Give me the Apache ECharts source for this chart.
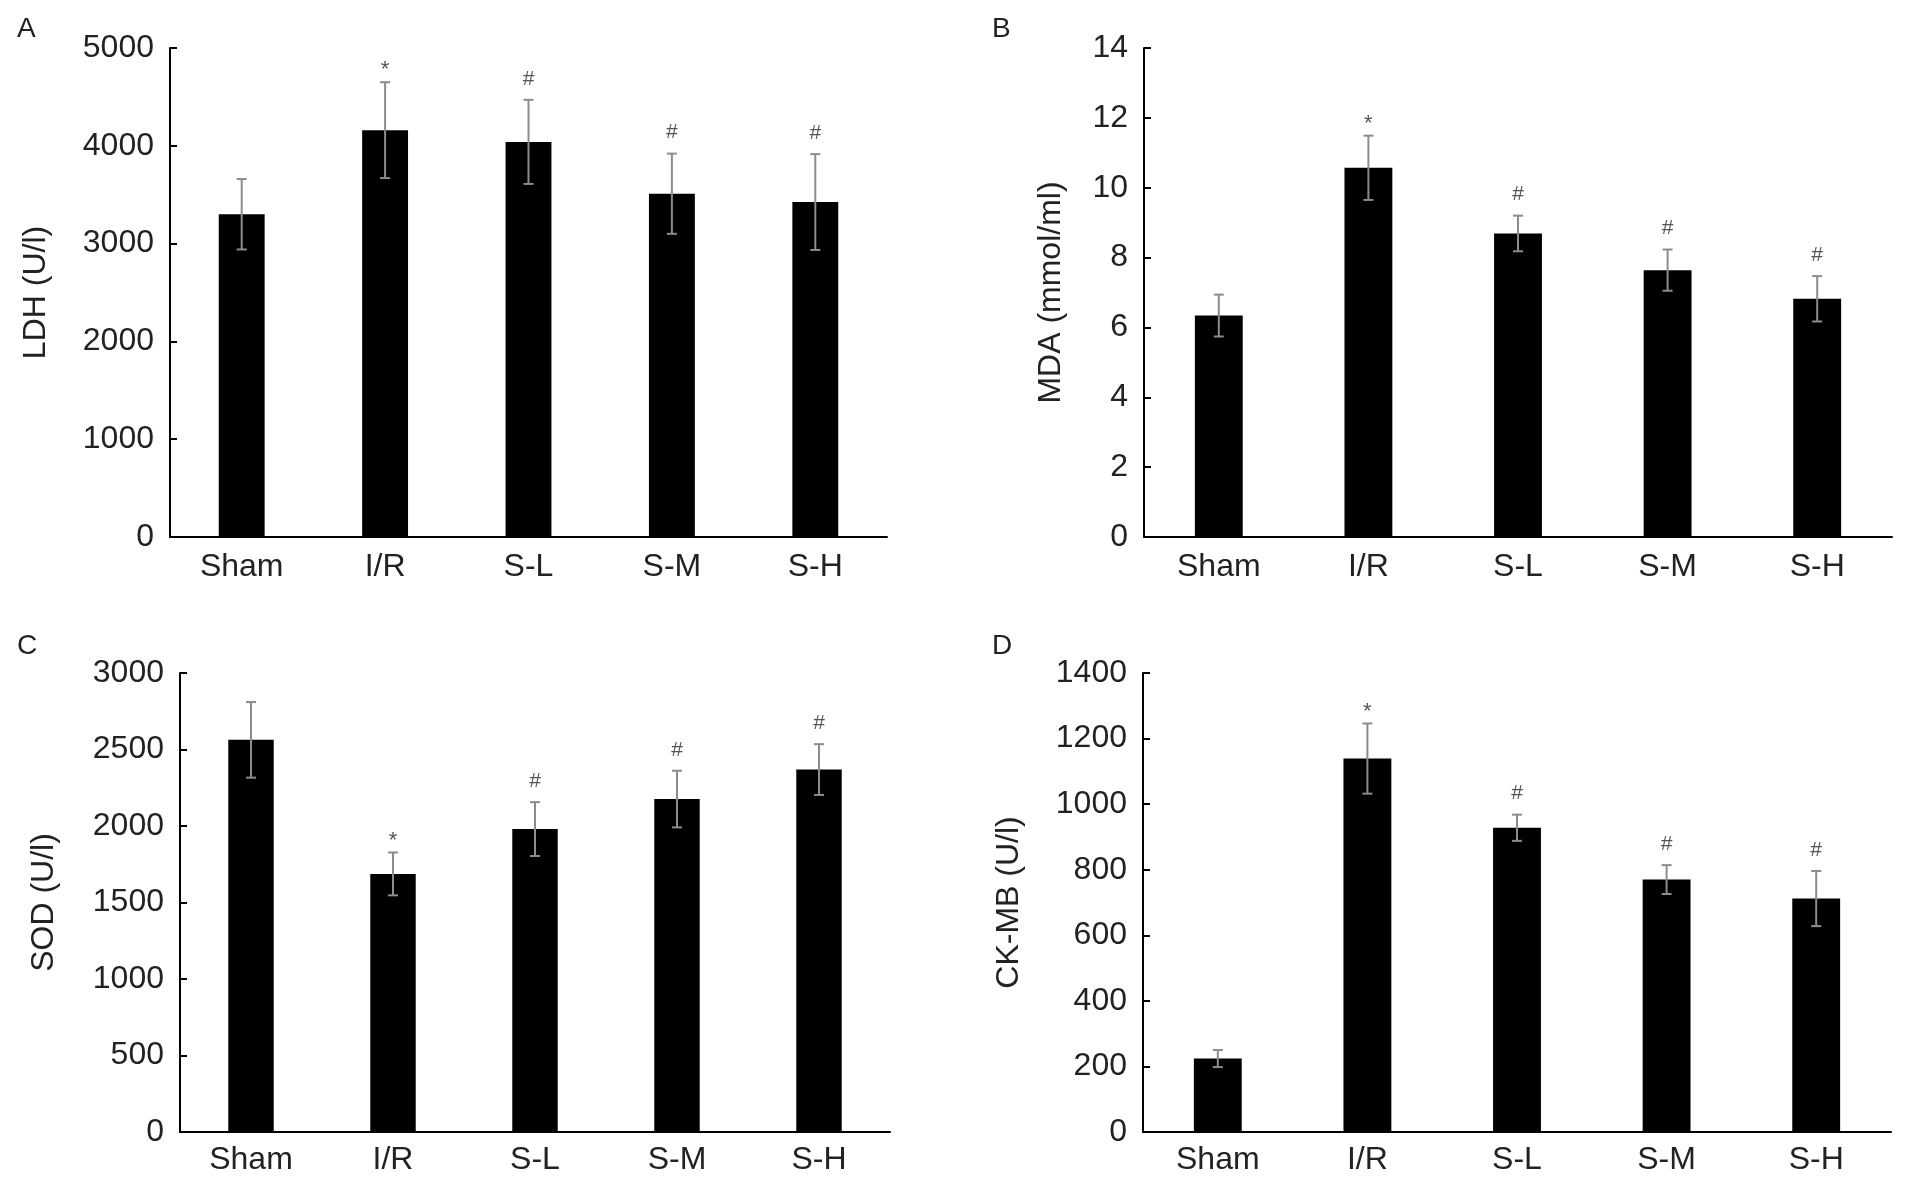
<!DOCTYPE html>
<html>
<head>
<meta charset="utf-8">
<script src="https://cdn.jsdelivr.net/npm/echarts@6/dist/echarts.min.js"></script>
<style>
  html, body { margin: 0; padding: 0; background: #fff; }
  #chart { width: 1908px; height: 1181px; }
</style>
</head>
<body>
<div id="chart"></div>
<script>
// groups on the x axis (same for all four panels)
const groups = ["Sham", "I/R", "S-L", "S-M", "S-H"];

// A: LDH
const ldhMean = [3300, 4160, 4040, 3510, 3425];
const ldhSd = [360, 490, 430, 410, 490];
// B: MDA
const mdaMean = [6.34, 10.57, 8.69, 7.64, 6.82];
const mdaSd = [0.6, 0.92, 0.51, 0.59, 0.65];
// C: SOD
const sodMean = [2563, 1687, 1980, 2176, 2369];
const sodSd = [247, 140, 176, 185, 166];
// D: CK-MB
const ckMean = [224, 1139, 928, 770, 712];
const ckSd = [26, 107, 40, 44, 84];

// significance marks above each bar
const marks = ["", "*", "#", "#", "#"];

// y axis ranges / tick steps
const yMax = [5000, 14, 3000, 1400];
const yStep = [1000, 2, 500, 200];
const yNames = ["LDH (U/l)", "MDA (mmol/ml)", "SOD (U/l)", "CK-MB (U/l)"];
const panelLetters = ["A", "B", "C", "D"];

const FONT = "Liberation Sans, Arial, sans-serif";
const TXT = "#222";

// pixel boxes of the four plot areas
const grids = [
  { left: 170, top: 48, width: 717, height: 489 },
  { left: 1144, top: 48, width: 748, height: 489 },
  { left: 180, top: 673, width: 710, height: 459 },
  { left: 1143, top: 673, width: 748, height: 459 },
];
const nameGaps = [118, 77, 120, 118];
const labelMargins = [14, 14, 12, 12];

const panels = [
  [ldhMean, ldhSd],
  [mdaMean, mdaSd],
  [sodMean, sodSd],
  [ckMean, ckSd],
];

function errorSeries(idx, means, sds) {
  return {
    type: "custom",
    xAxisIndex: idx,
    yAxisIndex: idx,
    z: 5,
    data: means.map((m, i) => [i, m, sds[i]]),
    renderItem: function (params, api) {
      const i = api.value(0);
      const m = api.value(1);
      const sd = api.value(2);
      const hi = api.coord([i, m + sd]);
      const lo = api.coord([i, m - sd]);
      const cap = 5;
      const st = { stroke: "#8c8c8c", lineWidth: 2 };
      const children = [
        { type: "line", shape: { x1: hi[0], y1: hi[1], x2: lo[0], y2: lo[1] }, style: st },
        { type: "line", shape: { x1: hi[0] - cap, y1: hi[1], x2: hi[0] + cap, y2: hi[1] }, style: st },
        { type: "line", shape: { x1: lo[0] - cap, y1: lo[1], x2: lo[0] + cap, y2: lo[1] }, style: st },
      ];
      const mk = marks[params.dataIndex];
      if (mk) {
        const star = mk === "*";
        children.push({
          type: "text",
          style: {
            text: mk,
            x: hi[0],
            y: hi[1] - (star ? 12 : 21),
            align: "center",
            verticalAlign: "middle",
            fill: "#555",
            font: (star ? "22px " : "21px ") + FONT,
          },
        });
      }
      return { type: "group", children: children };
    },
  };
}

const option = {
  backgroundColor: "#fff",
  animation: false,
  textStyle: { fontFamily: FONT },
  title: panelLetters.map((t, i) => ({
    text: t,
    left: i % 2 === 0 ? 12 : 987,
    top: i < 2 ? 10 : 627,
    textStyle: { fontSize: 28, fontWeight: "normal", color: TXT, fontFamily: FONT },
  })),
  grid: grids,
  xAxis: grids.map((g, i) => ({
    type: "category",
    gridIndex: i,
    data: groups,
    axisLine: { lineStyle: { color: "#000", width: 2 } },
    axisTick: { show: false },
    axisLabel: { fontSize: 32, color: TXT, margin: labelMargins[i], fontFamily: FONT },
  })),
  yAxis: grids.map((g, i) => ({
    type: "value",
    gridIndex: i,
    min: 0,
    max: yMax[i],
    interval: yStep[i],
    name: yNames[i],
    nameLocation: "middle",
    nameGap: nameGaps[i],
    nameTextStyle: { fontSize: 32, color: TXT, fontFamily: FONT },
    axisLine: { show: true, lineStyle: { color: "#000", width: 2 } },
    axisTick: { show: true, inside: true, length: 7, lineStyle: { color: "#000", width: 2 } },
    axisLabel: {
      fontSize: 32,
      color: TXT,
      margin: 16,
      fontFamily: FONT,
      formatter: (v) => String(v),
    },
    splitLine: { show: false },
  })),
  series: [],
};

panels.forEach((p, i) => {
  option.series.push({
    type: "bar",
    xAxisIndex: i,
    yAxisIndex: i,
    data: p[0],
    barWidth: "32%",
    itemStyle: { color: "#000" },
  });
  option.series.push(errorSeries(i, p[0], p[1]));
});

const chart = echarts.init(document.getElementById("chart"));
chart.setOption(option);
</script>
</body>
</html>
